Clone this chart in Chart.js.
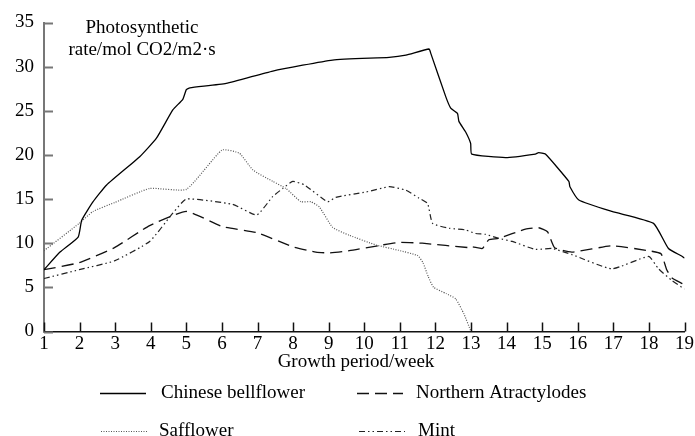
<!DOCTYPE html>
<html>
<head>
<meta charset="utf-8">
<script src="https://cdn.jsdelivr.net/npm/chart.js@4"></script>
<style>
  html, body { margin: 0; padding: 0; background: #fff; }
</style>
</head>
<body>
<canvas id="chart" width="695" height="436"></canvas>
<script>
// series names + values (week, rate)
const seriesNames = ['Chinese bellflower', 'Northern Atractylodes', 'Safflower', 'Mint'];
const yTitleLines = ['Photosynthetic', 'rate/mol CO2/m2\u00b7s'];
const xTitle = 'Growth period/week';

const bellflowerWeeks = [1, 1.45, 1.96, 2.06, 2.38, 2.76, 3.69, 4.16, 4.62, 4.9, 5.0, 5.1, 6.12, 7.43, 9.11, 10.7, 11.17, 11.82, 11.87, 12.29, 12.43, 12.62, 12.66, 12.85, 12.99, 13.02, 13.97, 14.81, 14.9, 15.09, 15.75, 15.78, 16.03, 16.96, 18.13, 18.55, 18.94, 19];
const bellflowerRate  = [7.0, 9.0, 10.7, 12.6, 14.7, 16.6, 19.8, 21.9, 25.1, 26.3, 27.4, 27.6, 28.1, 29.5, 30.75, 31.05, 31.3, 32.0, 31.5, 26.6, 25.3, 24.7, 23.8, 22.6, 21.3, 20.1, 19.7, 20.1, 20.25, 20.1, 17.0, 16.4, 14.9, 13.6, 12.25, 9.4, 8.5, 8.3];

const atractylodesWeeks = [1, 1.99, 2.98, 3.97, 5.0, 6.0, 6.98, 7.99, 8.64, 9.0, 9.58, 10.51, 11.0, 11.63, 12.94, 13.04, 13.32, 13.5, 13.78, 14.53, 14.9, 15.15, 15.35, 15.84, 16.96, 17.99, 18.34, 18.5, 18.64, 18.95];
const atractylodesRate  = [7.0, 7.8, 9.5, 12.0, 13.6, 11.9, 11.2, 9.6, 9.0, 8.9, 9.15, 9.8, 10.1, 10.0, 9.5, 9.6, 9.4, 10.4, 10.55, 11.6, 11.75, 11.3, 9.5, 9.0, 9.7, 9.15, 8.8, 7.0, 6.1, 5.4];

const safflowerWeeks = [1, 1.99, 2.38, 2.98, 3.97, 5.0, 6.0, 6.49, 6.87, 7.43, 7.8, 8.22, 8.5, 8.74, 9.11, 9.58, 10.33, 10.96, 11.5, 11.65, 11.8, 11.95, 12.3, 12.57, 12.8, 13.0];
const safflowerRate  = [9.15, 12.25, 13.6, 14.6, 16.2, 16.1, 20.55, 20.2, 18.3, 17.0, 16.2, 14.7, 14.7, 14.1, 11.8, 10.9, 9.8, 9.2, 8.6, 7.8, 6.2, 5.0, 4.3, 3.7, 2.0, 0];

const mintWeeks = [1, 1.99, 2.98, 3.97, 4.62, 5.0, 6.3, 6.98, 7.43, 7.71, 7.99, 8.32, 8.97, 9.2, 10.05, 10.7, 11.17, 11.54, 11.78, 11.92, 12.38, 12.85, 13.13, 13.41, 13.78, 14.16, 14.81, 15.28, 15.84, 16.96, 17.99, 18.27, 18.64, 19];
const mintRate  = [6.0, 7.0, 8.0, 10.2, 13.4, 15.0, 14.4, 13.2, 15.3, 16.2, 17.0, 16.6, 14.7, 15.2, 15.8, 16.4, 16.0, 15.1, 14.5, 12.25, 11.7, 11.5, 11.1, 11.0, 10.55, 10.2, 9.3, 9.4, 8.7, 7.1, 8.5, 7.1, 5.8, 4.8];

function pts(xs, ys){ return xs.map((x, i) => ({ x, y: ys[i] })); }

const SERIF = '"Liberation Serif", "DejaVu Serif", serif';

const extras = {
  id: 'extras',
  afterDraw(chart){
    const { ctx, chartArea: a, scales: { x, y } } = chart;
    ctx.save();
    // inward ticks
    ctx.strokeStyle = '#777'; ctx.lineWidth = 2;
    y.ticks.forEach(t => {
      const py = Math.round(y.getPixelForValue(t.value)) + 0.5;
      ctx.beginPath(); ctx.moveTo(a.left, py); ctx.lineTo(a.left + 9, py); ctx.stroke();
    });
    ctx.strokeStyle = '#111'; ctx.lineWidth = 1.5;
    x.ticks.forEach(t => {
      const px = Math.round(x.getPixelForValue(t.value)) + 0.5;
      ctx.beginPath(); ctx.moveTo(px, a.bottom); ctx.lineTo(px, a.bottom - 9); ctx.stroke();
    });

    ctx.fillStyle = '#000';
    ctx.font = '19px ' + SERIF;
    ctx.textAlign = 'center'; ctx.textBaseline = 'middle';
    // y title inside the plot
    ctx.fillText(yTitleLines[0], 142, 28);
    ctx.fillText(yTitleLines[1], 142, 50);
    // x title, sits a bit left of centre in the original
    ctx.fillText(xTitle, 356, 362);

    // legend, 2 x 2
    const spots = [[100, 393, 161], [357, 393, 416], [101, 431, 159], [359, 431, 418]];
    chart.data.datasets.forEach((ds, i) => {
      const [lx, ly, tx] = spots[i];
      ctx.strokeStyle = ds.borderColor;
      ctx.lineWidth = ds.borderWidth;
      ctx.setLineDash(ds.borderDash || []);
      ctx.beginPath(); ctx.moveTo(lx, ly + 0.5); ctx.lineTo(lx + 46, ly + 0.5); ctx.stroke();
      ctx.setLineDash([]);
      ctx.textAlign = 'left';
      ctx.fillText(ds.label, tx, ly);
    });
    ctx.restore();
  }
};

new Chart(document.getElementById('chart'), {
  type: 'line',
  data: {
    datasets: [
      { label: seriesNames[0], data: pts(bellflowerWeeks, bellflowerRate), borderColor: '#000', borderWidth: 1.3, borderDash: [] },
      { label: seriesNames[1], data: pts(atractylodesWeeks, atractylodesRate), borderColor: '#111', borderWidth: 1.3, borderDash: [12, 6] },
      { label: seriesNames[2], data: pts(safflowerWeeks, safflowerRate), borderColor: '#555', borderWidth: 1.2, borderDash: [1, 1.5] },
      { label: seriesNames[3], data: pts(mintWeeks, mintRate), borderColor: '#222', borderWidth: 1.2, borderDash: [6, 3, 1.5, 3, 1.5, 3] }
    ]
  },
  options: {
    responsive: false,
    animation: false,
    layout: { padding: { top: 22.5, right: 9, bottom: 63.5, left: 0 } },
    elements: { point: { radius: 0 }, line: { tension: 0.15 } },
    plugins: { legend: { display: false }, tooltip: { enabled: false } },
    scales: {
      x: {
        type: 'linear', min: 1, max: 19,
        ticks: { stepSize: 1, color: '#000', padding: 1, font: { family: SERIF, size: 19 } },
        grid: { display: false, drawTicks: false },
        border: { display: true, color: '#111', width: 1.5 },
        afterFit: s => { s.height = 41; }
      },
      y: {
        min: 0, max: 35,
        ticks: { stepSize: 5, color: '#000', padding: 10, font: { family: SERIF, size: 19 } },
        grid: { display: false, drawTicks: false },
        border: { display: true, color: '#777', width: 2 },
        afterFit: s => { s.width = 44; }
      }
    }
  },
  plugins: [extras]
});
</script>
</body>
</html>
